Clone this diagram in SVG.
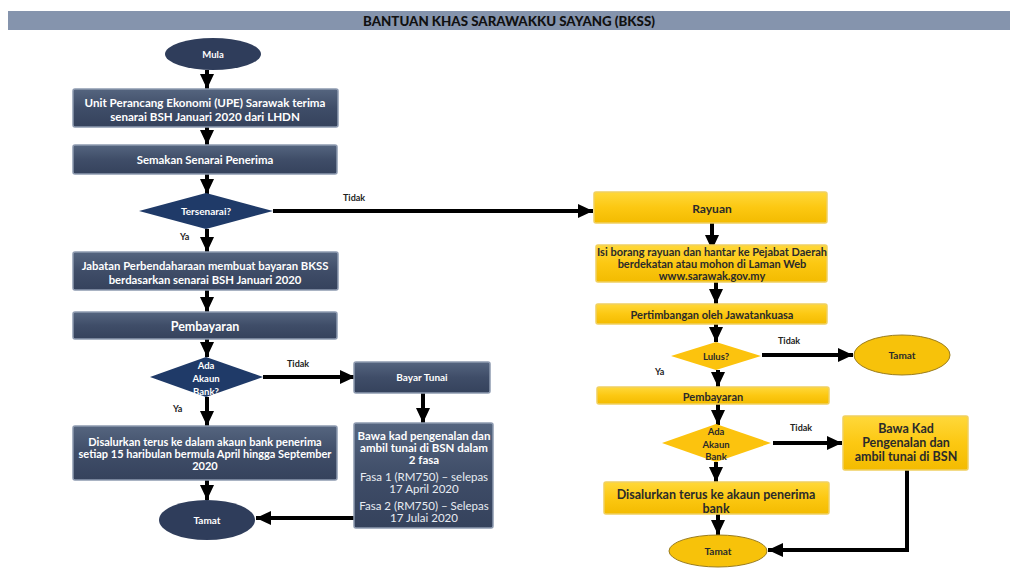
<svg xmlns="http://www.w3.org/2000/svg" width="1024" height="588" viewBox="0 0 1024 588">
<defs>
<linearGradient id="gd" x1="0" y1="0" x2="0" y2="1">
<stop offset="0" stop-color="#55657f"/>
<stop offset="0.5" stop-color="#3f4d68"/>
<stop offset="1" stop-color="#35425c"/>
</linearGradient>
<linearGradient id="gy" x1="0" y1="0" x2="0" y2="1">
<stop offset="0" stop-color="#ffd83a"/>
<stop offset="0.5" stop-color="#fcc812"/>
<stop offset="1" stop-color="#f3bb00"/>
</linearGradient>
<marker id="ah" markerUnits="userSpaceOnUse" markerWidth="16" markerHeight="16" viewBox="0 0 16 16" refX="15" refY="8" orient="auto">
<path d="M0,1 L15,8 L0,15 Z" fill="#000"/>
</marker>
<style>
text{font-family:Lato,"Open Sans","Liberation Sans",sans-serif;font-weight:bold;text-anchor:middle;dominant-baseline:central}
.dbox{fill:url(#gd);stroke:#8d9ab0;stroke-width:1.5}
.ddia{fill:#1f3a68}
.dell{fill:#2f3d5b}
.ybox{fill:url(#gy);stroke:#f0d060;stroke-width:1.5}
.ydia{fill:#fcc30e}
.yell{fill:#f7c20a;stroke:#9a7d20;stroke-width:1}
.wt{fill:#fff;font-size:11px}
.wl{fill:#e8ecf2;font-size:11px;font-weight:normal}
.bt{fill:#2a2a2a;font-size:11px}
.lb{fill:#222;font-size:9px;text-anchor:start}
.cn{fill:none;stroke:#000;stroke-width:4;marker-end:url(#ah)}
</style>
</defs>
<rect width="1024" height="588" fill="#fff"/>
<g id="title">
<rect x="8" y="11" width="1002" height="19" fill="#8594ad"/>
<text x="509" y="20.5" style="font-size:13.3px;fill:#111;font-weight:900">BANTUAN KHAS SARAWAKKU SAYANG (BKSS)</text>
</g>
<g id="connectors">
<path class="cn" d="M207,70 V89"/>
<path class="cn" d="M207,127 V145"/>
<path class="cn" d="M207,174 V194"/>
<path class="cn" d="M207,229 V252"/>
<path class="cn" d="M207,290 V312"/>
<path class="cn" d="M207,339 V357"/>
<path class="cn" d="M207,397 V426"/>
<path class="cn" d="M207,480 V500"/>
<path class="cn" d="M273,211 H593"/>
<path class="cn" d="M263,377 H355"/>
<path class="cn" d="M423,393 V423"/>
<path class="cn" d="M354,518 H256"/>
<path class="cn" d="M712,223 V250"/>
<path class="cn" d="M716,282 V304"/>
<path class="cn" d="M716,324 V342"/>
<path class="cn" d="M762,355 H853"/>
<path class="cn" d="M718,370 V387"/>
<path class="cn" d="M718,404 V425"/>
<path class="cn" d="M773,443 H842"/>
<path class="cn" d="M716,462 V482"/>
<path class="cn" d="M718,514 V535"/>
<path class="cn" d="M907,470 V550 H768"/>
</g>
<g id="mula">
<ellipse class="dell" cx="213" cy="54" rx="48" ry="16"/>
<text class="wt" x="213" y="54" style="font-size:9.5px">Mula</text>
</g>
<g id="upe">
<rect class="dbox" x="73" y="89" width="265" height="38" rx="2"/>
<text class="wt" x="205" y="102" style="font-size:11.6px">Unit Perancang Ekonomi (UPE) Sarawak terima</text>
<text class="wt" x="205" y="116" style="font-size:11.6px">senarai BSH Januari 2020 dari LHDN</text>
</g>
<g id="semakan">
<rect class="dbox" x="73" y="145" width="264" height="29" rx="2"/>
<text class="wt" x="205" y="159" style="font-size:11.4px">Semakan Senarai Penerima</text>
</g>
<g id="tersenarai">
<path class="ddia" d="M139,211 L206,193 L273,211 L206,229 Z"/>
<text class="wt" x="206" y="211" style="font-size:10px">Tersenarai?</text>
</g>
<g id="jabatan">
<rect class="dbox" x="73" y="252" width="265" height="38" rx="2"/>
<text class="wt" x="205" y="265" style="font-size:11.3px">Jabatan Perbendaharaan membuat bayaran BKSS</text>
<text class="wt" x="205" y="279" style="font-size:11.3px">berdasarkan senarai BSH Januari 2020</text>
</g>
<g id="pembayaran1">
<rect class="dbox" x="73" y="312" width="264" height="27" rx="2"/>
<text class="wt" x="205" y="326" style="font-size:12.5px">Pembayaran</text>
</g>
<g id="akaun1">
<path class="ddia" d="M150,377 L206,357 L263,377 L206,397 Z"/>
<text class="wt" x="206" y="365" style="font-size:9.5px">Ada</text>
<text class="wt" x="206" y="378" style="font-size:9.5px">Akaun</text>
<text class="wt" x="206" y="391" style="font-size:9.5px">Bank?</text>
</g>
<g id="bayartunai">
<rect class="dbox" x="354" y="362" width="136" height="31" rx="2"/>
<text class="wt" x="422" y="377" style="font-size:10px">Bayar Tunai</text>
</g>
<g id="bawakad1">
<rect class="dbox" x="354" y="423" width="139" height="105" rx="2"/>
<text class="wt" x="424" y="435" style="font-size:11.5px">Bawa kad pengenalan dan</text>
<text class="wt" x="424" y="447" style="font-size:11.5px">ambil tunai di BSN dalam</text>
<text class="wt" x="424" y="459" style="font-size:11.5px">2 fasa</text>
<text class="wl" x="424" y="476" style="font-size:11.5px">Fasa 1 (RM750) – selepas</text>
<text class="wl" x="424" y="488" style="font-size:11.5px">17 April  2020</text>
<text class="wl" x="424" y="505" style="font-size:11.5px">Fasa 2 (RM750) – Selepas</text>
<text class="wl" x="424" y="517" style="font-size:11.5px">17 Julai 2020</text>
</g>
<g id="disalurkan1">
<rect class="dbox" x="73" y="426" width="264" height="54" rx="2"/>
<text class="wt" x="205" y="441">Disalurkan terus ke dalam akaun bank penerima</text>
<text class="wt" x="205" y="453">setiap 15 haribulan bermula April hingga September</text>
<text class="wt" x="205" y="465">2020</text>
</g>
<g id="tamat1">
<ellipse class="dell" cx="207" cy="520" rx="48" ry="20"/>
<text class="wt" x="207" y="520" style="font-size:10px">Tamat</text>
</g>
<g id="rayuan">
<rect class="ybox" x="594" y="192" width="233" height="31" rx="2"/>
<text class="bt" x="712" y="208" style="font-size:12px">Rayuan</text>
</g>
<g id="isiborang">
<rect class="ybox" x="596" y="245" width="231" height="37" rx="2"/>
<text class="bt" x="712" y="251">Isi borang rayuan dan hantar ke Pejabat Daerah</text>
<text class="bt" x="712" y="263">berdekatan atau mohon di Laman Web</text>
<text class="bt" x="712" y="275">www.sarawak.gov.my</text>
</g>
<g id="pertimbangan">
<rect class="ybox" x="596" y="304" width="231" height="20" rx="2"/>
<text class="bt" x="712" y="314">Pertimbangan oleh Jawatankuasa</text>
</g>
<g id="lulus">
<path class="ydia" d="M671,356 L716,342 L761,356 L716,370 Z"/>
<text class="bt" x="716" y="356" style="font-size:9.5px">Lulus?</text>
</g>
<g id="tamat2">
<ellipse class="yell" cx="902" cy="355" rx="48" ry="20"/>
<text class="bt" x="902" y="355" style="font-size:10px">Tamat</text>
</g>
<g id="pembayaran2">
<rect class="ybox" x="597" y="387" width="232" height="17" rx="2"/>
<text class="bt" x="713" y="396">Pembayaran</text>
</g>
<g id="akaun2">
<path class="ydia" d="M662,443 L716,424 L771,443 L716,462 Z"/>
<text class="bt" x="716" y="431" style="font-size:9.5px">Ada</text>
<text class="bt" x="716" y="444" style="font-size:9.5px">Akaun</text>
<text class="bt" x="716" y="456" style="font-size:9.5px">Bank</text>
</g>
<g id="bawakad2">
<rect class="ybox" x="843" y="416" width="125" height="54" rx="2"/>
<text class="bt" x="906" y="428" style="font-size:12.5px">Bawa Kad</text>
<text class="bt" x="906" y="442" style="font-size:12.5px">Pengenalan dan</text>
<text class="bt" x="906" y="456" style="font-size:12.5px">ambil tunai di BSN</text>
</g>
<g id="disalurkan2">
<rect class="ybox" x="604" y="482" width="225" height="32" rx="2"/>
<text class="bt" x="716" y="494" style="font-size:12.5px">Disalurkan terus ke akaun penerima</text>
<text class="bt" x="716" y="508" style="font-size:12.5px">bank</text>
</g>
<g id="tamat3">
<ellipse class="yell" cx="718" cy="551" rx="49" ry="16"/>
<text class="bt" x="718" y="551" style="font-size:10px">Tamat</text>
</g>
<g id="labels">
<text class="lb" x="343" y="197">Tidak</text>
<text class="lb" x="180" y="236">Ya</text>
<text class="lb" x="287" y="363">Tidak</text>
<text class="lb" x="173" y="408">Ya</text>
<text class="lb" x="778" y="340">Tidak</text>
<text class="lb" x="655" y="371">Ya</text>
<text class="lb" x="790" y="427">Tidak</text>
</g>
</svg>
